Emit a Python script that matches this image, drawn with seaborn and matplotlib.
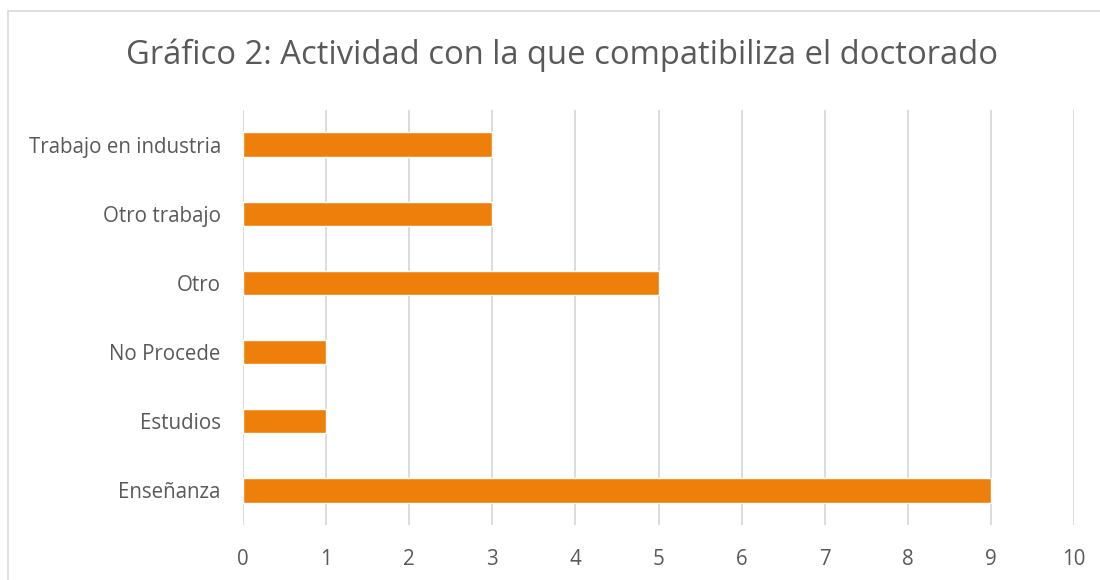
import pandas as pd
import matplotlib.pyplot as plt
import seaborn as sns
from matplotlib.patches import Rectangle

# datos del grafico
categorias = ['Trabajo en industria', 'Otro trabajo', 'Otro', 'No Procede', 'Estudios', 'Enseñanza']
valores = [3, 3, 5, 1, 1, 9]
ticks_x = list(range(0, 11))

df = pd.DataFrame({'actividad': categorias, 'n': valores})

sns.set_style('white')
plt.rcParams['font.family'] = ['Open Sans', 'DejaVu Sans']

fig = plt.figure(figsize=(11, 5.8), dpi=100)
ax = fig.add_axes([243 / 1100, 1 - 525 / 580, (1074 - 243) / 1100, (525 - 110) / 580])

sns.barplot(data=df, x='n', y='actividad', order=categorias, color='#EF7F0B',
            width=0.35, saturation=1, ax=ax, orient='h')

ax.set_xlim(0, 10)
ax.set_ylim(5.5, -0.5)
ax.set_xticks(ticks_x)
ax.grid(axis='x', color='#D9D9D9', linewidth=1.3)
ax.set_axisbelow(True)
for s in ax.spines.values():
    s.set_visible(False)
ax.tick_params(axis='both', length=0, labelsize=14.8, labelcolor='#595959')
ax.tick_params(axis='x', pad=17)
ax.tick_params(axis='y', pad=16)
ax.set_xlabel('')
ax.set_ylabel('')

fig.text(562 / 1100, 1 - 55 / 580, 'Gráfico 2: Actividad con la que compatibiliza el doctorado',
         ha='center', va='center', fontsize=23.6, color='#595959')

# borde del grafico (sin lado derecho ni inferior visibles)
fig.add_artist(Rectangle((8 / 1100, -0.2), 1.2, 1.2 - 11 / 580, transform=fig.transFigure,
                         fill=False, edgecolor='#D9D9D9', linewidth=1.2))

fig.savefig('out.png', dpi=100)
